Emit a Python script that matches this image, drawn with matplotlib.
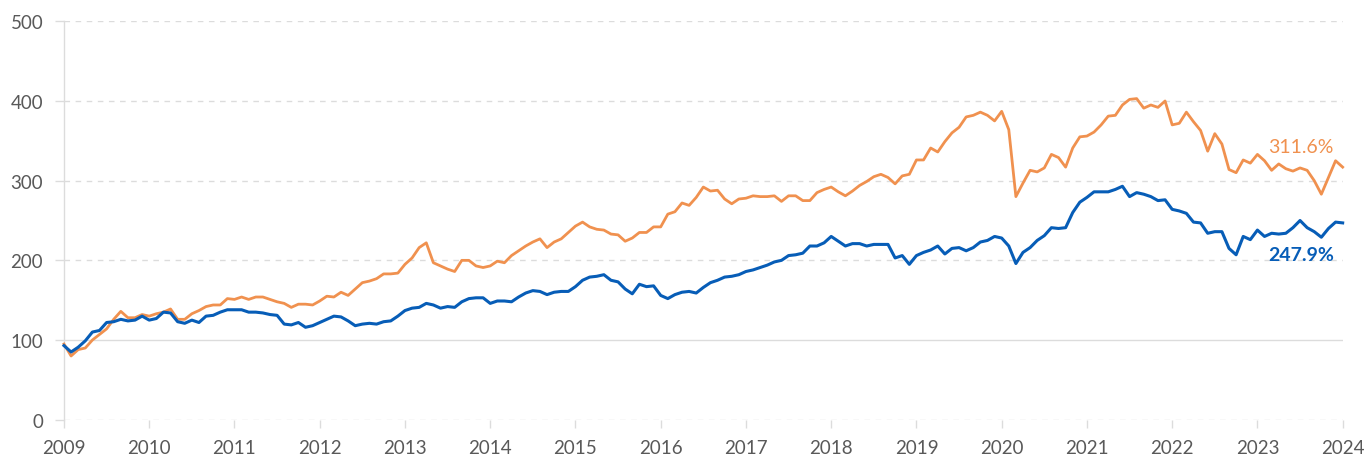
import numpy as np
import matplotlib.pyplot as plt

plt.rcParams['font.family'] = ['Lato', 'DejaVu Sans']

# monthly index values, Jan 2009 .. Jan 2024
orange = [
    95, 80, 88, 90, 100, 107, 114, 126, 136, 128, 128, 132,      # 2009
    130, 133, 135, 139, 126, 126, 133, 137, 142, 144, 144, 152,  # 2010
    151, 154, 151, 154, 154, 151, 148, 146, 141, 145, 145, 144,  # 2011
    149, 155, 154, 160, 156, 164, 172, 174, 177, 183, 183, 184,  # 2012
    195, 203, 216, 222, 197, 193, 189, 186, 200, 200, 193, 191,  # 2013
    193, 199, 197, 206, 212, 218, 223, 227, 216, 223, 227, 235,  # 2014
    243, 248, 242, 239, 238, 233, 232, 224, 228, 235, 235, 242,  # 2015
    242, 258, 261, 272, 269, 279, 292, 287, 288, 277, 271, 277,  # 2016
    278, 281, 280, 280, 281, 274, 281, 281, 275, 275, 285, 289,  # 2017
    292, 286, 281, 287, 294, 299, 305, 308, 304, 296, 306, 308,  # 2018
    326, 326, 341, 336, 349, 360, 367, 380, 382, 386, 382, 375,  # 2019
    387, 364, 280, 297, 313, 311, 316, 333, 329, 317, 341, 355,  # 2020
    356, 361, 370, 381, 382, 395, 402, 403, 391, 395, 392, 400,  # 2021
    370, 372, 386, 374, 363, 337, 359, 346, 314, 310, 326, 322,  # 2022
    333, 325, 313, 321, 315, 312, 316, 313, 300, 283, 304, 325,  # 2023
    317,                                                         # 2024
]
blue = [
    93, 85, 91, 99, 110, 112, 122, 123, 126, 124, 125, 130,      # 2009
    125, 127, 135, 134, 123, 121, 125, 122, 130, 131, 135, 138,  # 2010
    138, 138, 135, 135, 134, 132, 131, 120, 119, 122, 116, 118,  # 2011
    122, 126, 130, 129, 124, 118, 120, 121, 120, 123, 124, 130,  # 2012
    137, 140, 141, 146, 144, 140, 142, 141, 148, 152, 153, 153,  # 2013
    146, 149, 149, 148, 154, 159, 162, 161, 157, 160, 161, 161,  # 2014
    167, 175, 179, 180, 182, 175, 173, 164, 158, 170, 167, 168,  # 2015
    156, 152, 157, 160, 161, 159, 166, 172, 175, 179, 180, 182,  # 2016
    186, 188, 191, 194, 198, 200, 206, 207, 209, 218, 218, 222,  # 2017
    230, 224, 218, 221, 221, 218, 220, 220, 220, 203, 206, 195,  # 2018
    206, 210, 213, 218, 208, 215, 216, 212, 216, 223, 225, 230,  # 2019
    228, 218, 196, 210, 216, 225, 231, 241, 240, 241, 260, 273,  # 2020
    279, 286, 286, 286, 289, 293, 280, 285, 283, 280, 275, 276,  # 2021
    264, 262, 259, 248, 247, 234, 236, 236, 215, 207, 230, 226,  # 2022
    238, 230, 234, 233, 234, 241, 250, 241, 236, 229, 240, 248,  # 2023
    247,                                                         # 2024
]
years = list(range(2009, 2025))
yticks = [0, 100, 200, 300, 400, 500]
orange_label = '311.6%'
blue_label = '247.9%'

ORANGE = '#F0914F'
BLUE = '#075DB7'
GRID = '#DCDCDC'
TEXT = '#595959'

t = 2009 + np.arange(len(orange)) / 12.0

fig = plt.figure(figsize=(13.67, 4.6), dpi=100)
ax = fig.add_axes([0.0468, 0.0854, 0.9354, 0.8661])

for v in yticks:
    if v == 100:
        ax.axhline(v, color=GRID, lw=1.0, zorder=1)
    else:
        ax.axhline(v, color=GRID, lw=1.0, ls=(0, (4, 4)), zorder=1)

ax.plot(t, orange, color=ORANGE, lw=2.0, zorder=3, clip_on=False)
ax.plot(t, blue, color=BLUE, lw=2.2, zorder=4, clip_on=False)

ax.text(2023.13, 343, orange_label, color=ORANGE, fontsize=14, va='center', ha='left')
ax.text(2023.13, 207, blue_label, color=BLUE, fontsize=14, fontweight='bold', va='center', ha='left')

ax.set_xlim(2009, 2024)
ax.set_ylim(0, 500)
ax.set_xticks(years)
ax.set_xticklabels([str(y) for y in years])
ax.set_yticks(yticks)

for s in ['top', 'right', 'bottom']:
    ax.spines[s].set_visible(False)
ax.spines['left'].set_color(GRID)
ax.spines['left'].set_linewidth(1.0)

ax.tick_params(axis='y', length=6.5, color=GRID, width=1.0, pad=8.5, labelsize=13.5, labelcolor=TEXT)
ax.tick_params(axis='x', length=5.8, color=GRID, width=1.0, pad=8, labelsize=13.5, labelcolor=TEXT)

fig.savefig('out.png', dpi=100)
